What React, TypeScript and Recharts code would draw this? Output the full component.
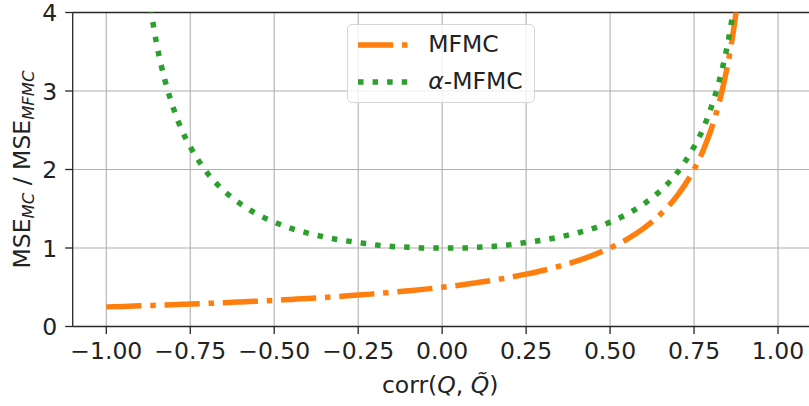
import React from "react";
import { LineChart, Line, XAxis, YAxis, CartesianGrid, ReferenceLine, Legend } from "recharts";

// correlation between Q and its surrogate
const rho = [
  -1, -0.95, -0.9, -0.88, -0.87, -0.86, -0.85, -0.825, -0.8, -0.775, -0.75,
  -0.7, -0.65, -0.6, -0.55, -0.5, -0.45, -0.4, -0.35, -0.3, -0.25, -0.2, -0.15, -0.1, -0.05,
  0, 0.05, 0.1, 0.15, 0.2, 0.25, 0.3, 0.35, 0.4, 0.45, 0.5, 0.55, 0.6, 0.65, 0.7, 0.75,
  0.775, 0.8, 0.825, 0.85, 0.86, 0.87, 0.88, 0.89,
];

// MSE ratio, plain MFMC
const mfmc = [
  0.25, 0.256, 0.263, 0.266, 0.267, 0.269, 0.27, 0.274, 0.278, 0.282, 0.286,
  0.294, 0.303, 0.313, 0.323, 0.333, 0.345, 0.357, 0.37, 0.385, 0.4, 0.417, 0.435, 0.455, 0.476,
  0.5, 0.526, 0.556, 0.588, 0.625, 0.667, 0.714, 0.769, 0.833, 0.909, 1.0, 1.111, 1.25, 1.429, 1.667, 2.0,
  2.222, 2.5, 2.857, 3.333, 3.571, 3.846, 4.167, 4.545,
];

// MSE ratio, alpha-MFMC (off the top of the axes near |rho| = 1)
const alphaMfmc: (number | null)[] = [
  null, null, null, 4.43, 4.11, 3.84, 3.6, 3.13, 2.78, 2.5, 2.29,
  1.96, 1.73, 1.56, 1.43, 1.33, 1.25, 1.19, 1.14, 1.1, 1.07, 1.04, 1.02, 1.01, 1.0,
  1.0, 1.0, 1.01, 1.02, 1.04, 1.07, 1.1, 1.14, 1.19, 1.25, 1.33, 1.43, 1.56, 1.73, 1.96, 2.29,
  2.5, 2.78, 3.13, 3.6, 3.84, 4.11, 4.43, 4.81,
];

const xTicks = [-1, -0.75, -0.5, -0.25, 0, 0.25, 0.5, 0.75, 1];
const yTicks = [0, 1, 2, 3, 4];

const rows = rho.map((r, i) => ({ rho: r, mfmc: mfmc[i], alpha: alphaMfmc[i] }));

const FONT = "DejaVu Sans";
const FS = 23.5;
const TEXT = "#222";
const ORANGE = "#ff7f0e";
const GREEN = "#2ca02c";
const LW = 5.5;
const DASHDOT = `${6.4 * LW} ${1.6 * LW} ${LW} ${1.6 * LW}`;
const DOTTED = `${LW} ${1.65 * LW}`;

const fmtX = (v: number) => (v < 0 ? "\u2212" : "") + Math.abs(v).toFixed(2);

const XTick = (props: any) => {
  const { x, y, payload } = props;
  return (
    <text x={x} y={y + 17.2} textAnchor="middle" fontFamily={FONT} fontSize={FS} fill={TEXT}>
      {fmtX(payload.value)}
    </text>
  );
};

const YTick = (props: any) => {
  const { x, y, payload } = props;
  return (
    <text x={x} y={y + 8.6} textAnchor="end" fontFamily={FONT} fontSize={FS} fill={TEXT}>
      {payload.value}
    </text>
  );
};

// corr(Q, Q~) with a combining tilde on the second Q
const XLabel = (props: any) => {
  const { viewBox } = props;
  const cx = viewBox.x + viewBox.width / 2 - 2;
  return (
    <text x={cx} y={393} textAnchor="middle" fontFamily={FONT} fontSize={FS} fill={TEXT}>
      corr(<tspan fontStyle="italic">Q</tspan>, <tspan fontStyle="italic">{"Q\u0303"}</tspan>)
    </text>
  );
};

const YLabel = (props: any) => {
  const { viewBox } = props;
  const cy = viewBox.y + viewBox.height / 2;
  const bx = 30;
  return (
    <text
      x={bx}
      y={cy}
      transform={`rotate(-90, ${bx}, ${cy})`}
      textAnchor="middle"
      fontFamily={FONT}
      fontSize={FS}
      fill={TEXT}
    >
      MSE
      <tspan fontStyle="italic" fontSize={FS * 0.7} dy={4}>MC</tspan>
      <tspan dy={-4}> / MSE</tspan>
      <tspan fontStyle="italic" fontSize={FS * 0.7} dy={4}>MFMC</tspan>
    </text>
  );
};

const legendItems = [
  { key: "mfmc", color: ORANGE, dash: DASHDOT, top: 20.3 },
  { key: "alpha", color: GREEN, dash: DOTTED, top: 56.7 },
];

const LegendBox = () => (
  <div
    style={{
      width: 188,
      height: 79,
      boxSizing: "border-box",
      border: "1.3px solid #d6d6d6",
      borderRadius: 5,
      background: "rgba(255,255,255,0.8)",
      fontFamily: FONT,
      fontSize: FS,
      color: TEXT,
      position: "relative",
    }}
  >
    {legendItems.map((e) => (
      <div key={e.key}>
        <svg width={52} height={10} style={{ position: "absolute", left: 10, top: e.top - 5 }}>
          <line x1={0} y1={5} x2={50} y2={5} stroke={e.color} strokeWidth={LW} strokeDasharray={e.dash} />
        </svg>
        <span style={{ position: "absolute", left: 80, top: e.top - 16, lineHeight: "30px", whiteSpace: "nowrap" }}>
          {e.key === "mfmc" ? "MFMC" : <><i>{"\u03b1"}</i>-MFMC</>}
        </span>
      </div>
    ))}
  </div>
);

export default function App() {
  return (
    <div style={{ position: "fixed", left: 0, top: 0, width: 809, height: 406, overflow: "hidden", background: "#fff" }}>
      <LineChart width={812} height={406} data={rows} margin={{ top: 12.5, right: 0.4, left: 0, bottom: 19.5 }}>
        <CartesianGrid stroke="#b0b0b0" strokeWidth={1.1} verticalValues={xTicks} horizontalValues={yTicks} />
        <XAxis
          type="number"
          dataKey="rho"
          domain={[-1.1, 1.1]}
          ticks={xTicks}
          allowDataOverflow
          height={60}
          tickSize={7.5}
          tickMargin={8}
          tick={<XTick />}
          axisLine={{ stroke: "#262626", strokeWidth: 1.3 }}
          tickLine={{ stroke: "#262626", strokeWidth: 1.3 }}
          label={<XLabel />}
        />
        <YAxis
          type="number"
          domain={[0, 4]}
          ticks={yTicks}
          allowDataOverflow
          width={72.7}
          tickSize={7.5}
          tickMargin={8}
          tick={<YTick />}
          axisLine={{ stroke: "#262626", strokeWidth: 1.3 }}
          tickLine={{ stroke: "#262626", strokeWidth: 1.3 }}
          label={<YLabel />}
        />
        <ReferenceLine y={4} stroke="#262626" strokeWidth={1.3} />
        <Line
          dataKey="mfmc"
          type="monotone"
          stroke={ORANGE}
          strokeWidth={LW}
          strokeDasharray={DASHDOT}
          strokeLinecap="butt"
          dot={false}
          activeDot={false}
          isAnimationActive={false}
        />
        <Line
          dataKey="alpha"
          type="monotone"
          stroke={GREEN}
          strokeWidth={LW}
          strokeDasharray={DOTTED}
          strokeLinecap="butt"
          dot={false}
          activeDot={false}
          isAnimationActive={false}
        />
        <Legend
          layout="horizontal"
          verticalAlign="middle"
          align="center"
          wrapperStyle={{ left: 347.3, top: 24, width: 188, height: 79 }}
          content={<LegendBox />}
        />
      </LineChart>
    </div>
  );
}
